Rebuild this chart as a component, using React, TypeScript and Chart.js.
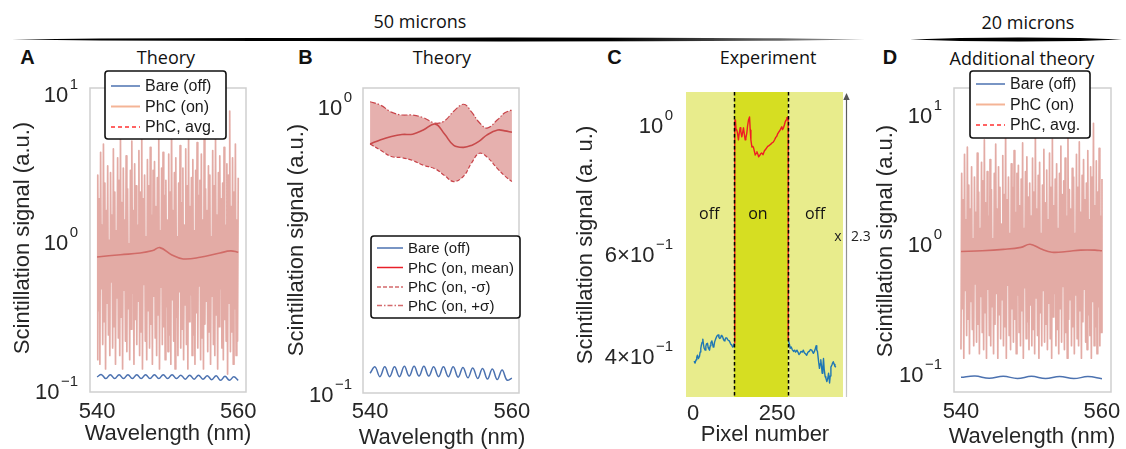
import { useEffect, useRef } from "react";
import { Chart, registerables } from "chart.js";

Chart.register(...registerables);

const W = 1126;
const H = 449;
const SANS = '"Liberation Sans", Arial, sans-serif';
const OPEN = '"Open Sans", sans-serif';
const INK = "#262626";
const FRAME = "#cfcfcf";

// ---------- Panel A: theory, 50 microns ----------
const A_RANGE = [540, 560];
const A_SPECTRUM = [
  0.15, 2.6, 0.32, 1.8, 0.14, 3.7, 0.45, 1.2, 0.19, 4.2, 0.27, 2.3, 0.13, 1.5, 0.36, 3.0, 0.22, 0.95, 0.16, 2.7,
  0.5, 1.4, 0.18, 3.9, 0.25, 2.0, 0.14, 1.1, 0.39, 3.4, 0.21, 2.4, 0.16, 4.7, 0.29, 1.7, 0.13, 2.9, 0.44, 1.3,
  0.2, 3.5, 0.17, 2.1, 0.33, 0.9, 0.15, 2.8, 0.24, 4.4, 0.42, 1.5, 0.14, 3.1, 0.28, 2.2, 0.19, 1.2, 0.37, 3.8,
  0.16, 2.0, 0.23, 5.3, 0.13, 1.8, 0.48, 2.6, 0.2, 1.0, 0.15, 3.3, 0.32, 2.2, 0.18, 4.0, 0.26, 1.4, 0.14, 2.8,
  0.4, 3.2, 0.21, 1.6, 0.16, 2.5, 0.3, 4.5, 0.13, 1.1, 0.46, 2.9, 0.19, 3.7, 0.25, 1.9, 0.15, 2.4, 0.34, 1.3,
  0.17, 3.6, 0.22, 2.0, 0.14, 6.2, 0.38, 1.5, 0.2, 2.7, 0.13, 3.4, 0.29, 1.0, 0.16, 2.3, 0.43, 4.1, 0.18, 1.7,
  0.24, 2.9, 0.15, 1.2, 0.35, 3.9, 0.19, 2.2, 0.13, 4.8, 0.27, 1.6, 0.41, 2.5, 0.16, 3.3, 0.22, 1.1, 0.14, 2.8,
  0.31, 4.3, 0.18, 1.9, 0.47, 2.4, 0.15, 3.6, 0.21, 1.3, 0.13, 5.0, 0.26, 2.1, 0.37, 1.5, 0.17, 3.0, 0.23, 2.6,
  0.14, 1.0, 0.4, 3.8, 0.19, 2.2, 0.16, 4.6, 0.3, 1.4, 0.13, 2.7, 0.25, 3.5, 0.45, 1.8, 0.18, 2.3, 0.15, 4.0,
  0.28, 1.2, 0.2, 3.1, 0.12, 2.6, 0.36, 7.0, 0.17, 1.6, 0.23, 3.4, 0.14, 2.0, 0.33, 4.2, 0.16, 1.3, 0.2, 2.5,
];
const A_MEAN_WL = [540, 543.3, 546.1, 547.9, 548.9, 550.6, 552.2, 554.6, 557.4, 558.9, 560];
const A_MEAN = [0.734, 0.76, 0.78, 0.81, 0.848, 0.757, 0.712, 0.73, 0.78, 0.806, 0.79];
const A_BARE = [
  0.115, 0.119, 0.112, 0.119, 0.112, 0.119, 0.112, 0.119, 0.112, 0.119, 0.112, 0.119, 0.112, 0.119, 0.112, 0.119,
  0.112, 0.119, 0.112, 0.118, 0.111, 0.118, 0.111, 0.118, 0.111, 0.117, 0.11, 0.117, 0.109, 0.116, 0.109, 0.115, 0.109,
];

// ---------- Panel B: theory, mean and spread ----------
const B_WL = [540, 541.5, 543, 544.5, 546, 547.5, 549.2, 550.5, 551.8, 553.2, 554.3, 555.4, 556.5, 558, 559, 560];
const B_PLUS = [0.998, 0.97, 0.918, 0.897, 0.897, 0.878, 0.84, 0.856, 0.925, 0.978, 0.92, 0.845, 0.808, 0.865, 0.913, 0.934];
const B_MEAN = [0.711, 0.736, 0.755, 0.767, 0.769, 0.795, 0.834, 0.77, 0.703, 0.692, 0.703, 0.728, 0.765, 0.795, 0.79, 0.781];
const B_MINUS = [0.711, 0.676, 0.643, 0.637, 0.623, 0.6, 0.582, 0.552, 0.526, 0.55, 0.61, 0.66, 0.64, 0.582, 0.55, 0.526];
const B_BARE = [
  0.113, 0.119, 0.11, 0.119, 0.11, 0.119, 0.11, 0.1195, 0.1105, 0.1195, 0.1105, 0.1195, 0.1105, 0.119, 0.11,
  0.119, 0.11, 0.119, 0.1095, 0.1185, 0.109, 0.118, 0.1085, 0.1175, 0.108, 0.117, 0.1075, 0.116, 0.107, 0.1087,
];

// ---------- Panel C: experiment ----------
const C_OFF_LEFT_PX = [3, 6, 9, 11, 13, 16, 19, 21, 23, 25, 27, 29, 31, 33, 36, 38, 40, 43, 45, 47, 49, 51, 53, 56, 58, 60, 62, 64, 67, 70, 72, 75, 77, 79, 82, 84, 86, 88, 90, 93, 95, 97, 100, 103, 105, 108, 111, 113, 115, 118, 120, 122];
const C_OFF_LEFT = [0.384, 0.381, 0.386, 0.39, 0.393, 0.388, 0.391, 0.398, 0.404, 0.41, 0.414, 0.419, 0.41, 0.404, 0.401, 0.407, 0.411, 0.412, 0.405, 0.403, 0.401, 0.408, 0.413, 0.416, 0.411, 0.406, 0.407, 0.414, 0.419, 0.423, 0.425, 0.426, 0.422, 0.42, 0.421, 0.425, 0.424, 0.423, 0.419, 0.416, 0.4175, 0.421, 0.421, 0.418, 0.417, 0.416, 0.412, 0.41, 0.409, 0.406, 0.407, 0.412];
const C_ON_PX = [122, 124, 126, 128, 130, 132, 135, 137, 140, 142, 145, 147, 150, 152, 155, 157, 160, 162, 165, 168, 170, 172, 175, 178, 180, 183, 185, 188, 190, 193, 195, 198, 201, 204, 208, 212, 216, 219, 222, 226, 229, 233, 236, 239, 243, 246, 249, 252, 255, 258, 261, 264, 266, 269, 272, 274, 277, 279, 281, 283, 283];
const C_ON = [0.412, 0.995, 1.0, 0.96, 0.961, 0.95, 0.924, 0.945, 0.969, 0.955, 0.935, 0.948, 0.969, 0.95, 0.924, 0.93, 0.95, 0.975, 1.0, 1.012, 0.96, 0.924, 0.898, 0.9, 0.895, 0.88, 0.87, 0.876, 0.881, 0.872, 0.864, 0.868, 0.874, 0.877, 0.871, 0.884, 0.89, 0.895, 0.9, 0.903, 0.906, 0.91, 0.914, 0.916, 0.925, 0.933, 0.937, 0.947, 0.953, 0.958, 0.966, 0.973, 0.962, 0.969, 0.982, 0.992, 1.0, 1.008, 1.01, 1.012, 0.4175];
const C_OFF_RIGHT_PX = [283, 287, 289, 292, 295, 299, 302, 305, 309, 312, 315, 318, 321, 325, 328, 331, 335, 338, 341, 344, 346, 349, 353, 356, 358, 361, 364, 366, 368, 370, 373, 376, 378, 380, 382, 384, 386, 388, 390, 393, 395, 398, 401, 403, 405, 406, 408, 410, 413, 415, 417, 420, 422, 425];
const C_OFF_RIGHT = [0.4175, 0.41, 0.404, 0.406, 0.402, 0.399, 0.401, 0.398, 0.401, 0.398, 0.394, 0.396, 0.399, 0.398, 0.401, 0.397, 0.395, 0.393, 0.397, 0.399, 0.399, 0.402, 0.401, 0.398, 0.396, 0.399, 0.404, 0.408, 0.401, 0.399, 0.385, 0.373, 0.38, 0.386, 0.376, 0.366, 0.374, 0.388, 0.372, 0.361, 0.359, 0.354, 0.359, 0.366, 0.358, 0.352, 0.362, 0.375, 0.378, 0.381, 0.383, 0.379, 0.376, 0.375];
const C_EDGES = [122, 283];
const C_REGION_NAMES = ["off", "on", "off"];
const C_REGION_LABEL_PX = [48, 193, 363];
const C_REGION_LABEL_LEVEL = 0.686;
const C_CONTRAST = "2.3";

// ---------- Panel D: additional theory, 20 microns ----------
const D_RANGE = [540, 560];
const D_SPECTRUM = [
  0.14, 3.2, 0.29, 2.0, 0.12, 4.5, 0.4, 1.4, 0.18, 5.1, 0.24, 2.6, 0.13, 1.7, 0.33, 3.6, 0.2, 1.0, 0.15, 3.0,
  0.45, 1.6, 0.16, 4.6, 0.22, 2.3, 0.13, 1.2, 0.36, 3.9, 0.19, 2.8, 0.14, 5.8, 0.27, 1.9, 0.12, 3.3, 0.41, 1.5,
  0.18, 4.1, 0.15, 2.4, 0.3, 1.0, 0.13, 3.2, 0.22, 5.4, 0.38, 1.7, 0.12, 3.6, 0.26, 2.5, 0.17, 1.3, 0.34, 4.4,
  0.15, 2.2, 0.21, 7.5, 0.12, 2.0, 0.44, 3.0, 0.18, 1.1, 0.14, 3.8, 0.29, 2.5, 0.16, 4.8, 0.24, 1.6, 0.13, 3.2,
  0.37, 3.7, 0.19, 1.8, 0.15, 2.9, 0.28, 5.5, 0.12, 1.2, 0.42, 3.3, 0.17, 4.3, 0.23, 2.1, 0.14, 2.7, 0.31, 1.5,
  0.15, 4.2, 0.2, 2.3, 0.13, 6.8, 0.35, 1.7, 0.18, 3.1, 0.12, 3.9, 0.27, 1.1, 0.15, 2.6, 0.4, 4.9, 0.16, 1.9,
  0.22, 3.4, 0.14, 1.4, 0.32, 4.6, 0.17, 2.5, 0.12, 5.9, 0.25, 1.8, 0.38, 2.9, 0.15, 3.8, 0.2, 1.2, 0.13, 3.2,
  0.29, 5.2, 0.16, 2.2, 0.43, 2.8, 0.14, 4.2, 0.19, 1.5, 0.12, 6.1, 0.24, 2.4, 0.34, 1.7, 0.15, 3.5, 0.21, 3.0,
  0.13, 1.1, 0.37, 4.5, 0.17, 2.5, 0.15, 5.6, 0.28, 1.6, 0.12, 3.1, 0.23, 4.1, 0.41, 2.0, 0.16, 2.7, 0.14, 4.8,
  0.26, 1.4, 0.18, 3.6, 0.12, 3.0, 0.33, 7.8, 0.15, 1.8, 0.21, 4.0, 0.13, 2.3, 0.3, 5.0, 0.15, 1.5, 0.19, 2.9,
];
const D_MEAN_WL = [540, 543, 546, 548.5, 549.8, 551.3, 552.9, 555, 557, 559, 560];
const D_MEAN = [0.8, 0.81, 0.83, 0.86, 0.91, 0.84, 0.79, 0.8, 0.82, 0.82, 0.81];
const D_BARE = [0.0855, 0.0875, 0.084, 0.0872, 0.0838, 0.087, 0.0838, 0.0868, 0.0836, 0.0866, 0.0835];

// ---------- shared axis ticks ----------
const WL_TICKS = [540, 560];
const DECADE_TICKS_3 = [0.1, 1, 10];
const DECADE_EXP_3 = ["\u22121", "0", "1"];
const DECADE_TICKS_2 = [0.1, 1];
const DECADE_EXP_2 = ["\u22121", "0"];
const C_Y_TICKS = [0.4, 0.6, 1];
const C_Y_BASES = ["4\u00d710", "6\u00d710", "10"];
const C_Y_EXP = ["\u22121", "\u22121", "0"];
const C_X_TICKS = [0, 250];

const COLORS = {
  bare: "#4c72b0",
  spectrum: "rgba(212,128,118,0.66)",
  mean: "#c9454b",
  band: "rgba(200,80,75,0.45)",
  legendOn: "#f4b496",
  legendAvg: "#ff3030",
  legendMean: "#e8202a",
  legendSigma: "#d46a6c",
  expOff: "#1f77b4",
  expOn: "#ee1c25",
};

const series = (values: number[], range: number[]) =>
  values.map((y, i) => ({ x: range[0] + ((range[1] - range[0]) * i) / (values.length - 1), y }));
const pairs = (xs: number[], ys: number[]) => xs.map((x, i) => ({ x, y: ys[i] }));

type LegendItem = { label: string; color: string; dash?: number[]; width?: number };
type Spec = {
  area: [number, number, number, number];
  xRange: [number, number];
  yRange: [number, number];
  datasets: any[];
  xTicks: { values: number[]; labels: string[]; baseline: number };
  yTicks: { values: number[]; bases: string[]; exps: string[]; right: number };
  xTitle: { text: string; x: number; baseline: number };
  yTitle: { text: string; x: number; y: number };
  frame: boolean;
  legend?: {
    box: [number, number, number, number];
    line: [number, number];
    textX: number;
    rows: number[];
    size: number;
    items: LegendItem[];
  };
  under?: (chart: any) => void;
  over?: (chart: any) => void;
};

function drawPower(ctx: CanvasRenderingContext2D, base: string, exp: string, right: number, y: number) {
  ctx.textAlign = "left";
  ctx.textBaseline = "alphabetic";
  ctx.font = `15px ${SANS}`;
  const sw = ctx.measureText(exp).width;
  ctx.font = `22px ${SANS}`;
  const bw = ctx.measureText(base).width;
  const x0 = right - sw - 1.5 - bw;
  ctx.fillText(base, x0, y + 13.5);
  ctx.font = `15px ${SANS}`;
  ctx.fillText(exp, x0 + bw + 1.5, y + 0.5);
}

function drawLegend(ctx: CanvasRenderingContext2D, lg: NonNullable<Spec["legend"]>) {
  const [l, t, r, b] = lg.box;
  ctx.save();
  ctx.beginPath();
  ctx.roundRect(l, t, r - l, b - t, 3);
  ctx.fillStyle = "#ffffff";
  ctx.fill();
  ctx.lineWidth = 1.6;
  ctx.strokeStyle = "#111111";
  ctx.stroke();
  lg.items.forEach((it, i) => {
    const y = lg.rows[i];
    ctx.beginPath();
    ctx.setLineDash(it.dash || []);
    ctx.strokeStyle = it.color;
    ctx.lineWidth = it.width || 1.5;
    ctx.moveTo(lg.line[0], y);
    ctx.lineTo(lg.line[1], y);
    ctx.stroke();
    ctx.setLineDash([]);
    ctx.fillStyle = "#1a1a1a";
    ctx.font = `${lg.size}px ${SANS}`;
    ctx.textAlign = "left";
    ctx.textBaseline = "middle";
    ctx.fillText(it.label, lg.textX, y + 1);
  });
  ctx.restore();
}

function decor(spec: Spec) {
  return {
    id: "panelDecor",
    beforeDatasetsDraw(chart: any) {
      if (spec.under) spec.under(chart);
    },
    afterDatasetsDraw(chart: any) {
      if (spec.over) spec.over(chart);
    },
    afterDraw(chart: any) {
      const ctx: CanvasRenderingContext2D = chart.ctx;
      const { left, top, right, bottom } = chart.chartArea;
      const xs = chart.scales.x;
      const ys = chart.scales.y;
      ctx.save();
      if (spec.frame) {
        ctx.strokeStyle = FRAME;
        ctx.lineWidth = 1.5;
        ctx.strokeRect(left, top, right - left, bottom - top);
      }
      ctx.fillStyle = INK;
      ctx.font = `22px ${SANS}`;
      ctx.textAlign = "center";
      ctx.textBaseline = "alphabetic";
      spec.xTicks.values.forEach((v, i) => {
        ctx.fillText(spec.xTicks.labels[i], xs.getPixelForValue(v), spec.xTicks.baseline);
      });
      spec.yTicks.values.forEach((v, i) => {
        drawPower(ctx, spec.yTicks.bases[i], spec.yTicks.exps[i], spec.yTicks.right, ys.getPixelForValue(v));
      });
      ctx.font = `22px ${SANS}`;
      ctx.textAlign = "center";
      ctx.textBaseline = "alphabetic";
      ctx.fillText(spec.xTitle.text, spec.xTitle.x, spec.xTitle.baseline);
      ctx.save();
      ctx.translate(spec.yTitle.x, spec.yTitle.y);
      ctx.rotate(-Math.PI / 2);
      ctx.textBaseline = "middle";
      ctx.fillText(spec.yTitle.text, 0, 0);
      ctx.restore();
      if (spec.legend) drawLegend(ctx, spec.legend);
      ctx.restore();
    },
  };
}

const lineDefaults = { pointRadius: 0, borderJoinStyle: "round", fill: false };
const SPIKE_WIDTH = 1.7;

const specA: Spec = {
  area: [90, 88, 246, 392],
  xRange: [539.0, 561.1],
  yRange: [0.091, 10],
  datasets: [
    { ...lineDefaults, label: "PhC (on)", data: series(A_SPECTRUM, A_RANGE), borderColor: COLORS.spectrum, borderWidth: SPIKE_WIDTH, tension: 0 },
    { ...lineDefaults, label: "Bare (off)", data: series(A_BARE, A_RANGE), borderColor: COLORS.bare, borderWidth: 1.5, tension: 0.4 },
    { ...lineDefaults, label: "PhC, avg.", data: pairs(A_MEAN_WL, A_MEAN), borderColor: COLORS.mean, borderWidth: 1.6, tension: 0.4 },
  ],
  xTicks: { values: WL_TICKS, labels: WL_TICKS.map(String), baseline: 418 },
  yTicks: { values: DECADE_TICKS_3, bases: ["10", "10", "10"], exps: DECADE_EXP_3, right: 78 },
  xTitle: { text: "Wavelength (nm)", x: 168, baseline: 440 },
  yTitle: { text: "Scintillation signal (a.u.)", x: 23, y: 238 },
  frame: true,
  legend: {
    box: [105, 71, 226, 139],
    line: [111, 140],
    textX: 145,
    rows: [86, 106.5, 127],
    size: 16,
    items: [
      { label: "Bare (off)", color: COLORS.bare },
      { label: "PhC (on)", color: COLORS.legendOn, width: 2 },
      { label: "PhC, avg.", color: COLORS.legendAvg, dash: [4, 3] },
    ],
  },
};

const specB: Spec = {
  area: [363, 88, 519, 393],
  xRange: [539.0, 561.0],
  yRange: [0.0965, 1.114],
  datasets: [
    { ...lineDefaults, label: "Bare (off)", data: series(B_BARE, A_RANGE), borderColor: COLORS.bare, borderWidth: 1.5, tension: 0.4 },
    { ...lineDefaults, label: "PhC (on, +\u03c3)", data: pairs(B_WL, B_PLUS), borderColor: COLORS.mean, borderWidth: 1.2, borderDash: [6, 2, 1.5, 2], tension: 0.4 },
    { ...lineDefaults, label: "PhC (on, -\u03c3)", data: pairs(B_WL, B_MINUS), borderColor: COLORS.mean, borderWidth: 1.2, borderDash: [4, 2], tension: 0.4, fill: "-1", backgroundColor: COLORS.band },
    { ...lineDefaults, label: "PhC (on, mean)", data: pairs(B_WL, B_MEAN), borderColor: COLORS.mean, borderWidth: 1.6, tension: 0.4 },
  ],
  xTicks: { values: WL_TICKS, labels: WL_TICKS.map(String), baseline: 418 },
  yTicks: { values: DECADE_TICKS_2, bases: ["10", "10"], exps: DECADE_EXP_2, right: 352 },
  xTitle: { text: "Wavelength (nm)", x: 442, baseline: 444 },
  yTitle: { text: "Scintillation signal (a.u.)", x: 297, y: 240 },
  frame: true,
  legend: {
    box: [371, 236, 520, 318],
    line: [377, 403],
    textX: 408,
    rows: [248, 267.5, 287, 305.5],
    size: 15,
    items: [
      { label: "Bare (off)", color: COLORS.bare },
      { label: "PhC (on, mean)", color: COLORS.legendMean },
      { label: "PhC (on, -\u03c3)", color: COLORS.legendSigma, dash: [4, 2] },
      { label: "PhC (on, +\u03c3)", color: COLORS.legendSigma, dash: [5, 2, 1.5, 2] },
    ],
  },
};

const specC: Spec = {
  area: [686, 92, 843, 397],
  xRange: [-21, 446],
  yRange: [0.333, 1.117],
  datasets: [
    { ...lineDefaults, label: "off", data: pairs(C_OFF_LEFT_PX, C_OFF_LEFT), borderColor: COLORS.expOff, borderWidth: 1.4, tension: 0 },
    { ...lineDefaults, label: "on", data: pairs(C_ON_PX, C_ON), borderColor: COLORS.expOn, borderWidth: 1.4, tension: 0 },
    { ...lineDefaults, label: "off", data: pairs(C_OFF_RIGHT_PX, C_OFF_RIGHT), borderColor: COLORS.expOff, borderWidth: 1.4, tension: 0 },
  ],
  xTicks: { values: C_X_TICKS, labels: C_X_TICKS.map(String), baseline: 420 },
  yTicks: { values: C_Y_TICKS, bases: C_Y_BASES, exps: C_Y_EXP, right: 673 },
  xTitle: { text: "Pixel number", x: 765, baseline: 441 },
  yTitle: { text: "Scintillation signal (a. u.)", x: 586, y: 245 },
  frame: false,
  under(chart: any) {
    const ctx: CanvasRenderingContext2D = chart.ctx;
    const { top, bottom } = chart.chartArea;
    const xs = chart.scales.x;
    const bounds = [xs.min, ...C_EDGES, xs.max];
    const fills = ["#e8ec8c", "#d6de22", "#e8ec8c"];
    ctx.save();
    for (let i = 0; i < 3; i++) {
      const x0 = xs.getPixelForValue(bounds[i]);
      const x1 = xs.getPixelForValue(bounds[i + 1]);
      ctx.fillStyle = fills[i];
      ctx.fillRect(x0, top, x1 - x0, bottom - top);
    }
    ctx.fillStyle = "#111111";
    ctx.font = `16px ${OPEN}`;
    ctx.textAlign = "center";
    ctx.textBaseline = "middle";
    C_REGION_NAMES.forEach((name, i) => {
      ctx.fillText(name, xs.getPixelForValue(C_REGION_LABEL_PX[i]), chart.scales.y.getPixelForValue(C_REGION_LABEL_LEVEL));
    });
    ctx.restore();
  },
  over(chart: any) {
    const ctx: CanvasRenderingContext2D = chart.ctx;
    const { top, bottom, right } = chart.chartArea;
    const xs = chart.scales.x;
    ctx.save();
    ctx.strokeStyle = "#000000";
    ctx.lineWidth = 1.5;
    ctx.setLineDash([3.5, 2.5]);
    C_EDGES.forEach((e) => {
      const x = Math.round(xs.getPixelForValue(e)) + 0.5;
      ctx.beginPath();
      ctx.moveTo(x, top);
      ctx.lineTo(x, bottom);
      ctx.stroke();
    });
    ctx.setLineDash([]);
    // contrast arrow along the right edge
    const ax = right + 3.5;
    const grad = ctx.createLinearGradient(0, top, 0, bottom);
    grad.addColorStop(0, "#555555");
    grad.addColorStop(1, "#c8c8c8");
    ctx.strokeStyle = grad;
    ctx.lineWidth = 1.2;
    ctx.beginPath();
    ctx.moveTo(ax, top + 4);
    ctx.lineTo(ax, bottom);
    ctx.stroke();
    ctx.fillStyle = "#555555";
    ctx.beginPath();
    ctx.moveTo(ax, top + 1);
    ctx.lineTo(ax - 3.2, top + 8);
    ctx.lineTo(ax + 3.2, top + 8);
    ctx.closePath();
    ctx.fill();
    ctx.fillStyle = "#222222";
    ctx.font = `14px ${OPEN}`;
    ctx.textBaseline = "middle";
    ctx.textAlign = "center";
    ctx.fillText("x", ax - 8.5, 237);
    ctx.textAlign = "left";
    ctx.fillText(C_CONTRAST, ax + 4.5, 237);
    ctx.restore();
  },
};

const specD: Spec = {
  area: [954, 88, 1111, 392],
  xRange: [539.01, 561.28],
  yRange: [0.0659, 14.6],
  datasets: [
    { ...lineDefaults, label: "PhC (on)", data: series(D_SPECTRUM, D_RANGE), borderColor: COLORS.spectrum, borderWidth: SPIKE_WIDTH, tension: 0 },
    { ...lineDefaults, label: "Bare (off)", data: series(D_BARE, D_RANGE), borderColor: COLORS.bare, borderWidth: 1.5, tension: 0.4 },
    { ...lineDefaults, label: "PhC, avg.", data: pairs(D_MEAN_WL, D_MEAN), borderColor: COLORS.mean, borderWidth: 1.6, tension: 0.4 },
  ],
  xTicks: { values: WL_TICKS, labels: WL_TICKS.map(String), baseline: 418 },
  yTicks: { values: DECADE_TICKS_3, bases: ["10", "10", "10"], exps: DECADE_EXP_3, right: 942 },
  xTitle: { text: "Wavelength (nm)", x: 1032, baseline: 443 },
  yTitle: { text: "Scintillation signal (a.u.)", x: 886, y: 241 },
  frame: true,
  legend: {
    box: [970, 71, 1090, 138],
    line: [976, 1005],
    textX: 1010,
    rows: [84, 104.5, 125],
    size: 16,
    items: [
      { label: "Bare (off)", color: COLORS.bare },
      { label: "PhC (on)", color: COLORS.legendOn, width: 2 },
      { label: "PhC, avg.", color: COLORS.legendAvg, dash: [4, 3] },
    ],
  },
};

function Panel({ spec }: { spec: Spec }) {
  const ref = useRef<HTMLCanvasElement>(null);
  useEffect(() => {
    const [l, t, r, b] = spec.area;
    const chart = new Chart(ref.current as HTMLCanvasElement, {
      type: "line",
      data: { datasets: spec.datasets },
      options: {
        animation: false,
        responsive: false,
        devicePixelRatio: 1,
        layout: { padding: { left: l, top: t, right: W - r, bottom: H - b } },
        scales: {
          x: { type: "linear", display: false, min: spec.xRange[0], max: spec.xRange[1] },
          y: { type: "logarithmic", display: false, min: spec.yRange[0], max: spec.yRange[1] },
        },
        plugins: { legend: { display: false }, tooltip: { enabled: false }, title: { display: false } },
        events: [],
      } as any,
      plugins: [decor(spec)],
    });
    return () => chart.destroy();
  }, [spec]);
  return (
    <canvas
      ref={ref}
      width={W}
      height={H}
      style={{ position: "absolute", left: 0, top: 0, width: W, height: H }}
    />
  );
}

type Label = { text: string; x: number; y: number; font: string; size: number; weight?: number };
const LABELS: Label[] = [
  { text: "50 microns", x: 420, y: 21, font: OPEN, size: 18 },
  { text: "20 microns", x: 1028, y: 21.5, font: OPEN, size: 18 },
  { text: "Theory", x: 166, y: 57, font: OPEN, size: 18 },
  { text: "Theory", x: 442, y: 57, font: OPEN, size: 18 },
  { text: "Experiment", x: 768, y: 57, font: OPEN, size: 18 },
  { text: "Additional theory", x: 1022, y: 57.5, font: OPEN, size: 18 },
  { text: "A", x: 27.5, y: 56.5, font: SANS, size: 20, weight: 700 },
  { text: "B", x: 305.5, y: 56.5, font: SANS, size: 20, weight: 700 },
  { text: "C", x: 614.5, y: 56.5, font: SANS, size: 20, weight: 700 },
  { text: "D", x: 890, y: 56.5, font: SANS, size: 20, weight: 700 },
];

// tapered scale bars under the size labels: [x, half-thickness]
const BAR_50 = [[12, 0], [100, 1.1], [300, 1.6], [500, 2], [650, 1.8], [780, 1.2], [865, 0]];
const BAR_20 = [[910, 0], [960, 1.5], [1020, 2], [1080, 1.5], [1122, 0]];

function barPath(pts: number[][], cy: number) {
  const top = pts.map(([x, h]) => `${x},${cy - h}`);
  const bot = [...pts].reverse().map(([x, h]) => `${x},${cy + h}`);
  return [...top, ...bot].join(" ");
}

export default function App() {
  return (
    <div style={{ position: "absolute", left: 0, top: 0, width: W, height: H, background: "#ffffff", overflow: "hidden" }}>
      <svg width={W} height={H} style={{ position: "absolute", left: 0, top: 0 }}>
        <defs>
          <linearGradient id="fade50" x1="12" x2="865" y1="0" y2="0" gradientUnits="userSpaceOnUse">
            <stop offset="0" stopColor="#000" />
            <stop offset="0.7" stopColor="#000" />
            <stop offset="1" stopColor="#9a9a9a" />
          </linearGradient>
        </defs>
        <polygon points={barPath(BAR_50, 39.5)} fill="url(#fade50)" />
        <polygon points={barPath(BAR_20, 39.5)} fill="#000" />
      </svg>
      {LABELS.map((lb, i) => (
        <div
          key={i}
          style={{
            position: "absolute",
            left: lb.x,
            top: lb.y,
            transform: "translate(-50%, -50%)",
            font: `${lb.weight || 400} ${lb.size}px ${lb.font}`,
            color: "#111111",
            whiteSpace: "nowrap",
          }}
        >
          {lb.text}
        </div>
      ))}
      {[specA, specB, specC, specD].map((s, i) => (
        <Panel key={i} spec={s} />
      ))}
    </div>
  );
}
